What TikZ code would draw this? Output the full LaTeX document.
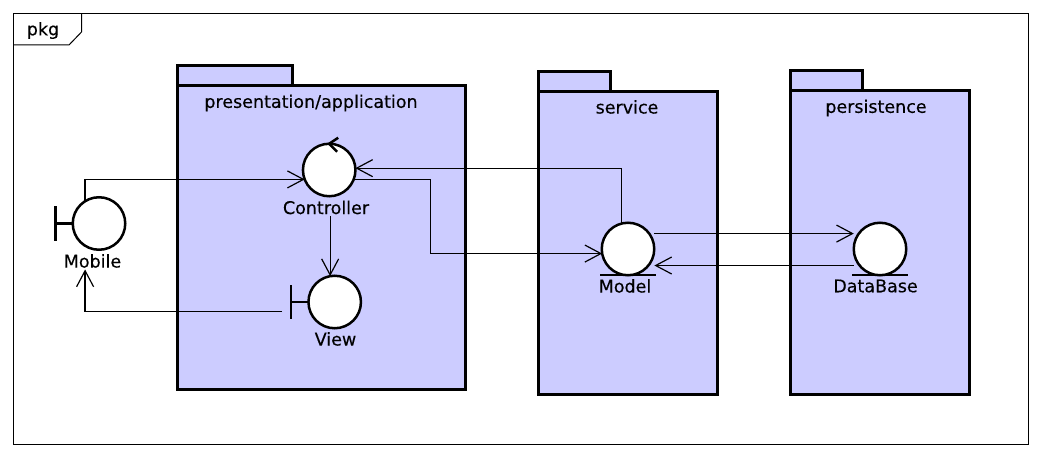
\documentclass[tikz,border=0pt]{standalone}
\usepackage{fontspec}
\setmainfont[FakeBold=0.25]{DejaVu Sans}
\usetikzlibrary{arrows.meta,calc}
\tikzset{
  pkgshape/.style={draw=black,fill=pkgfill,line width=3pt,rectangle,inner sep=0,outer sep=0,anchor=north west},
  robust/.style={draw=black,fill=white,line width=2.5pt,circle,minimum size=52.5pt,inner sep=0,outer sep=0},
  lbl/.style={inner sep=1.5pt,font=\fontsize{17.5pt}{19pt}\selectfont,text=black},
  link/.style={draw=black,line width=1.2pt},
  arr/.style={link,-{Straight Barb[length=16pt,width=17pt,line width=1.2pt]}},
  stereo/.style={draw=black,line width=2.5pt},
}
\definecolor{pkgfill}{RGB}{204,204,255}
\begin{document}
\begin{tikzpicture}[x=1pt,y=-1pt]
\useasboundingbox (0,0) rectangle (1041,457);
% frame
\node[draw=black,line width=1pt,fill=white,rectangle,inner sep=0,outer sep=0,anchor=north west,minimum width=1014.5pt,minimum height=431pt] (frame) at (13.5,13.5) {};
\node[lbl,anchor=center] (pkg) at (43,30.5) {pkg};
\draw[line width=1pt] (frame.north west) ++(0,31.5) -- ++(55.5,0) -- ++(12.5,-13) -- ++(0,-18.5);
% packages
\node[pkgshape,minimum width=115pt,minimum height=20pt] (tabA) at (177.5,65.5) {};
\node[pkgshape,minimum width=288pt,minimum height=304pt] (bodyA) at (177.5,85.5) {};
\node[pkgshape,minimum width=72pt,minimum height=20pt] (tabB) at (538.5,71.5) {};
\node[pkgshape,minimum width=179pt,minimum height=303pt] (bodyB) at (538.5,91.5) {};
\node[pkgshape,minimum width=72pt,minimum height=20pt] (tabC) at (790.5,70.5) {};
\node[pkgshape,minimum width=179pt,minimum height=304pt] (bodyC) at (790.5,90.5) {};
\node[lbl] (labA) at (311,103) {presentation/application};
\node[lbl] (labB) at (627,107) {service};
\node[lbl] (labC) at (876,108) {persistence};
% robustness symbols
\node[robust] (mobile) at (99,223.5) {};
\node[robust] (controller) at (329.2,170) {};
\node[robust] (view) at (334.7,302) {};
\node[robust] (model) at (628,249) {};
\node[robust] (database) at (880,249) {};
\draw[stereo] (mobile.west) -- ++(-17.5,0) ++(0,-17) -- ++(0,34);
\draw[stereo] (view.west) -- ++(-17.5,0) ++(0,-17) -- ++(0,34);
\draw[stereo] ([shift={(9,-6)}]controller.north) -- (controller.north) -- ([shift={(8,8)}]controller.north);
\draw[stereo,line width=2pt] ([xshift=-28]model.south) -- ([xshift=28]model.south);
\draw[stereo,line width=2pt] ([xshift=-28]database.south) -- ([xshift=28]database.south);
\node[lbl] (mobilelabel) at (92.5,261) {Mobile};
\node[lbl] (controllerlabel) at (326,207.5) {Controller};
\node[lbl] (viewlabel) at (335.5,339) {View};
\node[lbl] (modellabel) at (625,286) {Model};
\node[lbl] (databaselabel) at (875.5,286) {DataBase};
% connectors
\coordinate (viewout) at (282,311.5);
\coordinate (elbow) at (430.5,220);
\draw[arr] (mobile.122) |- (controller.201.5);
\draw[arr] (viewout) -| (mobile.122 |- mobilelabel.south);
\draw[arr] (controllerlabel.south -| view.100) -- (view.100);
\draw[arr] (model.105) |- (controller.4);
\draw[arr] (controller.338.5) -- (controller.338.5 -| elbow) -- (elbow |- model.190) -- (model.190);
\draw[arr] ([xshift=5]model.36) -- ([xshift=-5]database.144);
\draw[arr] ([xshift=-6]database.219.5) -- ([xshift=6]model.-39.5);
\end{tikzpicture}
\end{document}
